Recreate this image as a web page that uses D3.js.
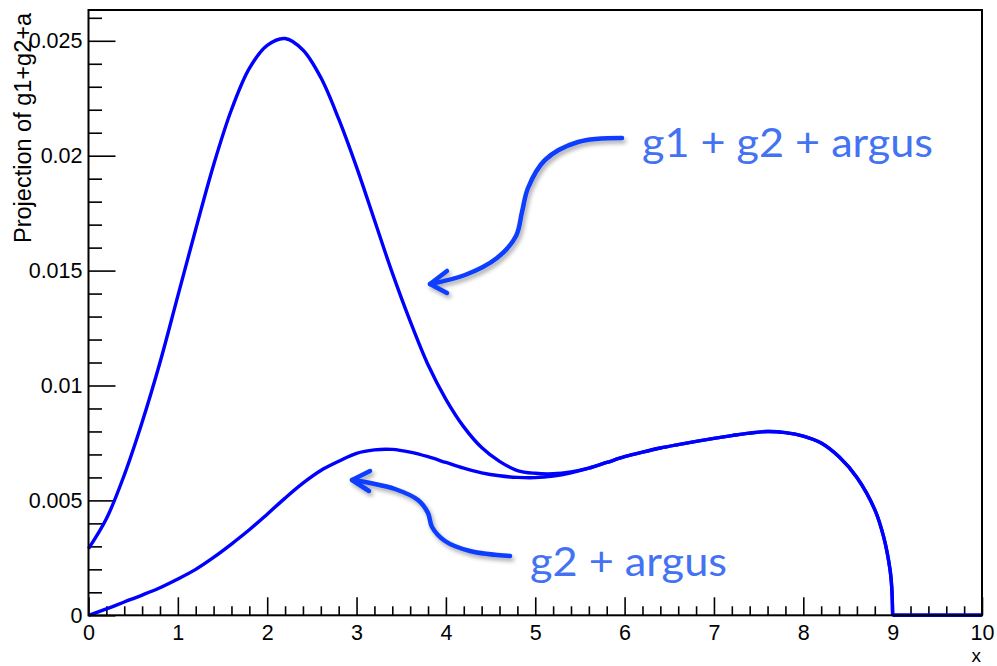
<!DOCTYPE html>
<html>
<head>
<meta charset="utf-8">
<script src="https://cdn.jsdelivr.net/npm/d3@7"></script>
<style>
  html, body { margin: 0; padding: 0; background: #ffffff; }
  svg { display: block; }
</style>
</head>
<body>
<svg id="chart" width="997" height="666"></svg>
<script>
// Sample points of the projected PDFs along x
const xValues = [
  0, 0.2, 0.4, 0.6, 0.8, 1.0, 1.2, 1.4, 1.6, 1.8,
  2.0, 2.2, 2.4, 2.6, 2.8, 3.0, 3.2, 3.4, 3.6, 3.8,
  4.0, 4.2, 4.4, 4.6, 4.8, 5.0, 5.2, 5.4, 5.6, 5.8,
  6.0, 6.2, 6.4, 6.6, 6.8, 7.0, 7.2, 7.4, 7.6, 7.8,
  8.0, 8.2, 8.4, 8.6, 8.8, 8.9, 8.97, 8.99, 9.0, 9.5, 10
];

// g1 + g2 + argus
const totalPdf = [
  0.0029, 0.0042, 0.0061, 0.0084, 0.0110, 0.0139, 0.0168, 0.0196, 0.0220, 0.0238,
  0.0248, 0.0251, 0.0246, 0.0234, 0.0216, 0.0195, 0.0172, 0.0149, 0.0128, 0.0109,
  0.0094, 0.0082, 0.0073, 0.0067, 0.0063, 0.00618, 0.00616, 0.00624, 0.0064, 0.00665,
  0.0069, 0.0071, 0.00728, 0.00743, 0.00757, 0.0077, 0.00782, 0.00793, 0.0080, 0.00795,
  0.0078, 0.0075, 0.0069, 0.0060, 0.0046, 0.0034, 0.0020, 0.0012, 0, 0, 0
];

// g2 + argus
const partialPdf = [
  0, 0.00028, 0.00058, 0.00088, 0.0012, 0.00158, 0.0020, 0.00252, 0.0031, 0.00372,
  0.0044, 0.0051, 0.00575, 0.0063, 0.0067, 0.00705, 0.0072, 0.00722, 0.0071, 0.0069,
  0.00665, 0.0064, 0.0062, 0.00607, 0.0060, 0.00599, 0.00606, 0.0062, 0.0064, 0.00665,
  0.0069, 0.0071, 0.00728, 0.00743, 0.00757, 0.0077, 0.00782, 0.00793, 0.0080, 0.00795,
  0.0078, 0.0075, 0.0069, 0.0060, 0.0046, 0.0034, 0.0020, 0.0012, 0, 0, 0
];

const xTickValues = [0, 1, 2, 3, 4, 5, 6, 7, 8, 9, 10];
const xTickLabels = ["0", "1", "2", "3", "4", "5", "6", "7", "8", "9", "10"];
const yTickValues = [0, 0.005, 0.01, 0.015, 0.02, 0.025];
const yTickLabels = ["0", "0.005", "0.01", "0.015", "0.02", "0.025"];
const xDomain = [0, 10];
const yDomain = [0, 0.02634];
const cutoffX = 9; // ARGUS endpoint: the PDF is zero beyond it
const xAxisTitle = "x";
const yAxisTitle = "Projection of g1+g2+a";
const annotationLabels = ["g1 + g2 + argus", "g2 + argus"];

const svg = d3.select("#chart");
const frame = { left: 88.5, right: 982, top: 10, bottom: 615.3 };

const x = d3.scaleLinear().domain(xDomain).range([frame.left, frame.right]);
const y = d3.scaleLinear().domain(yDomain).range([frame.bottom, frame.top]);

const axisFont = "'Liberation Sans', Arial, Helvetica, sans-serif";

// Minor ticks first, then major ticks with labels
const yMinor = d3.range(0, 0.02601, 0.001).filter(v => Math.abs(v / 0.005 - Math.round(v / 0.005)) > 1e-6);
const xMinor = d3.range(0, 10.001, 0.2).filter(v => Math.abs(v - Math.round(v)) > 1e-6);

function styleAxis(g) {
  g.select(".domain").remove();
  g.selectAll(".tick line").attr("stroke", "#000").attr("stroke-width", 1.6);
  g.selectAll(".tick text")
    .attr("fill", "#000")
    .style("font-family", axisFont)
    .style("font-size", "21.5px");
}

svg.append("g")
  .attr("transform", `translate(${frame.left},0)`)
  .call(d3.axisLeft(y).tickValues(yMinor).tickSize(-13.5).tickFormat(""))
  .call(styleAxis);

svg.append("g")
  .attr("transform", `translate(${frame.left},0)`)
  .call(d3.axisLeft(y).tickValues(yTickValues).tickSize(-27).tickPadding(6)
    .tickFormat((d, i) => yTickLabels[i]))
  .call(styleAxis);

svg.append("g")
  .attr("transform", `translate(0,${frame.bottom})`)
  .call(d3.axisBottom(x).tickValues(xMinor).tickSize(-9).tickFormat(""))
  .call(styleAxis);

svg.append("g")
  .attr("transform", `translate(0,${frame.bottom})`)
  .call(d3.axisBottom(x).tickValues(xTickValues).tickSize(-18).tickPadding(9)
    .tickFormat((d, i) => xTickLabels[i]))
  .call(styleAxis);

// Curves: smooth up to the ARGUS endpoint, flat zero beyond it
const pts = series => xValues.map((xv, i) => [xv, series[i]]);
const smooth = d3.line()
  .x(d => x(d[0]))
  .y(d => y(d[1]))
  .curve(d3.curveCatmullRom.alpha(0.5));
const straight = d3.line()
  .x(d => x(d[0]))
  .y(d => y(d[1]));

function drawPdf(series) {
  const p = pts(series);
  const head = p.filter(d => d[0] <= cutoffX);
  const tail = p.filter(d => d[0] >= cutoffX);
  const g = svg.append("g")
    .attr("fill", "none")
    .attr("stroke", "#0000ff")
    .attr("stroke-width", 3.4)
    .attr("stroke-linejoin", "round");
  g.append("path").attr("d", smooth(head));
  g.append("path").attr("d", straight(tail));
}

drawPdf(partialPdf);
drawPdf(totalPdf);

// Frame
svg.append("rect")
  .attr("x", frame.left)
  .attr("y", frame.top)
  .attr("width", frame.right - frame.left)
  .attr("height", frame.bottom - frame.top)
  .attr("fill", "none")
  .attr("stroke", "#000")
  .attr("stroke-width", 2);

// Axis titles
svg.append("text")
  .attr("transform", `translate(31,13) rotate(-90)`)
  .attr("text-anchor", "end")
  .style("font-family", axisFont)
  .style("font-size", "23.5px")
  .attr("fill", "#000")
  .text(yAxisTitle);

svg.append("text")
  .attr("x", 981)
  .attr("y", 662)
  .attr("text-anchor", "end")
  .style("font-family", axisFont)
  .style("font-size", "19px")
  .attr("fill", "#000")
  .text(xAxisTitle);

// Call-out arrows with a soft shadow
const defs = svg.append("defs");
const shadow = defs.append("filter").attr("id", "arrowShadow")
  .attr("x", "-20%").attr("y", "-20%").attr("width", "140%").attr("height", "140%");
shadow.append("feDropShadow")
  .attr("dx", 2).attr("dy", 3).attr("stdDeviation", 2)
  .attr("flood-color", "#000").attr("flood-opacity", 0.35);

const arrowLine = d3.line().curve(d3.curveCatmullRom.alpha(0.5));
const arrowColor = "#0a3cff";

function drawArrow(points, barbA, barbB) {
  const g = svg.append("g").attr("filter", "url(#arrowShadow)");
  g.append("path")
    .attr("d", arrowLine(points))
    .attr("fill", "none")
    .attr("stroke", arrowColor)
    .attr("stroke-width", 4.5)
    .attr("stroke-linecap", "round");
  const tip = points[points.length - 1];
  g.append("path")
    .attr("d", d3.line()([barbA, tip, barbB]))
    .attr("fill", "none")
    .attr("stroke", arrowColor)
    .attr("stroke-width", 4.5)
    .attr("stroke-linecap", "round")
    .attr("stroke-linejoin", "round");
}

drawArrow(
  [[622, 138], [578, 142], [545, 160], [528, 188], [522, 212], [516, 236], [497, 258], [465, 275], [430, 284]],
  [447, 271], [447, 293]
);

drawArrow(
  [[510, 556], [470, 551], [445, 541], [432, 527], [428, 513], [418, 500], [395, 489], [370, 483], [352, 480]],
  [370, 471], [369, 491]
);

// Call-out labels
const labelColor = "#4372f3";
const labelFont = "Lato, 'Open Sans', sans-serif";

svg.append("text")
  .attr("x", 642)
  .attr("y", 157)
  .attr("textLength", 291)
  .attr("lengthAdjust", "spacingAndGlyphs")
  .style("font-family", labelFont)
  .style("font-size", "41px")
  .attr("fill", labelColor)
  .text(annotationLabels[0]);

svg.append("text")
  .attr("x", 530)
  .attr("y", 576)
  .attr("textLength", 197)
  .attr("lengthAdjust", "spacingAndGlyphs")
  .style("font-family", labelFont)
  .style("font-size", "41px")
  .attr("fill", labelColor)
  .text(annotationLabels[1]);
</script>
</body>
</html>
